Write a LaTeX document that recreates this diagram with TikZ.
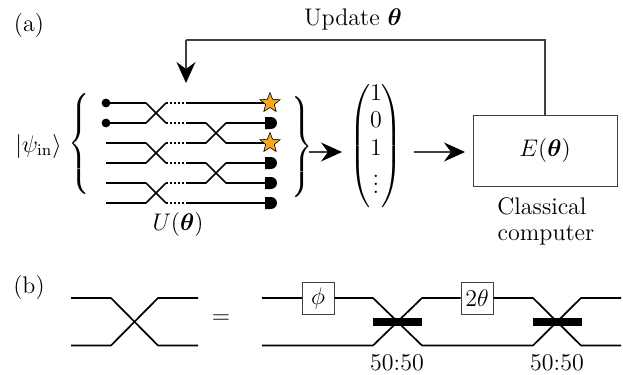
\documentclass[tikz,border=0pt,12pt]{standalone}
\usepackage{amsmath,amssymb,graphicx}
\usetikzlibrary{shapes.geometric,arrows.meta}
\definecolor{staror}{HTML}{F5A623}
\tikzset{
  wire/.style={line width=0.85pt,line join=round},
  gap/.style={line width=0.85pt,dash pattern=on 1pt off 1pt},
  feed/.style={line width=0.55pt,draw=black!75},
  bigarrow/.style={line width=0.55pt,draw=black!75,-{Stealth[length=10.5pt,width=9.5pt,inset=3.5pt,black]}},
  frame/.style={draw=black!75,line width=0.5pt,fill=white,inner sep=0pt},
  lbl/.style={inner sep=0pt,outer sep=0pt},
  pointdot/.style={circle,fill=black,inner sep=0pt,minimum size=4.4pt},
  anchorpt/.style={inner sep=0pt,minimum size=0pt},
  starm/.style={star,star points=5,star point ratio=2.3,fill=staror,draw=black,line width=0.3pt,inner sep=0pt,minimum size=10.5pt},
  bar/.style={fill=black,inner sep=0pt,minimum width=24.5pt,minimum height=4pt},
}
\newcommand{\meter}[1]{\fill (#1.center) ++(-0.5pt,3pt) -- ++(3pt,0pt) arc (90:-90:3pt) -- ++(-3pt,0pt) -- cycle;}
\newcommand{\tallbrace}[2]{\scalebox{1}[#1]{$\delimitershortfall=0pt\nulldelimiterspace=0pt #2$}}
\begin{document}
\begin{tikzpicture}[x=0.5pt,y=-0.5pt]
\useasboundingbox (0,0) rectangle (623,375);
\node[lbl] (labela) at (29,26) {(a)};
\node[lbl] (labelb) at (29,288) {(b)};
\node[lbl] (psi) at (38.5,146) {$|\psi_{\mathrm{in}}\rangle$};
\node[lbl] (lbrace) at (79,144) {\tallbrace{1.16}{\left\{\rule[-18pt]{0pt}{42pt}\right.}};
\node[lbl] (rbrace) at (302,147) {\tallbrace{1.16}{\left.\rule[-18pt]{0pt}{42pt}\right\}}};
\coordinate (bracetip) at (309,152);
\node[lbl] (uni) at (178,224) {$U(\boldsymbol{\theta})$};
\node[lbl] (update) at (353,19) {Update $\boldsymbol{\theta}$};
% inputs
\node[pointdot] (in1) at (106,103) {};
\node[pointdot] (in2) at (106,123) {};
\node[anchorpt] (in3) at (106,143) {};
\node[anchorpt] (in4) at (106,163) {};
\node[anchorpt] (in5) at (106,183) {};
\node[anchorpt] (in6) at (106,203) {};
% outputs
\node[anchorpt] (out1) at (266,103) {};
\node[anchorpt] (out2) at (266,123) {};
\node[anchorpt] (out3) at (266,143) {};
\node[anchorpt] (out4) at (266,163) {};
\node[anchorpt] (out5) at (266,183) {};
\node[anchorpt] (out6) at (266,203) {};
% wires
\draw[wire] (in1.center) -- ++(40,0) -- ++(20,20) coordinate (a1);
\draw[gap] (a1) -- ++(20,0) coordinate (b1);
\draw[wire] (b1) -- ++(20,0) -- ++(20,20) -- (out3.center);
\draw[wire] (in2.center) -- ++(40,0) -- ++(20,-20) coordinate (a2);
\draw[gap] (a2) -- ++(20,0) coordinate (b2);
\draw[wire] (b2) -- (out1.center);
\draw[wire] (in3.center) -- ++(40,0) -- ++(20,20) coordinate (a3);
\draw[gap] (a3) -- ++(20,0) coordinate (b3);
\draw[wire] (b3) -- ++(20,0) -- ++(20,20) -- (out5.center);
\draw[wire] (in4.center) -- ++(40,0) -- ++(20,-20) coordinate (a4);
\draw[gap] (a4) -- ++(20,0) coordinate (b4);
\draw[wire] (b4) -- ++(20,0) -- ++(20,-20) -- (out2.center);
\draw[wire] (in5.center) -- ++(40,0) -- ++(20,20) coordinate (a5);
\draw[gap] (a5) -- ++(20,0) coordinate (b5);
\draw[wire] (b5) -- (out6.center);
\draw[wire] (in6.center) -- ++(40,0) -- ++(20,-20) coordinate (a6);
\draw[gap] (a6) -- ++(20,0) coordinate (b6);
\draw[wire] (b6) -- ++(20,0) -- ++(20,-20) -- (out4.center);
% detectors
\meter{out2}\meter{out4}\meter{out5}\meter{out6}
\node[starm] (star1) at (270,103) {};
\node[starm] (star2) at (270,143) {};
% vector
\node[lbl] (vec) at (376,144) {\tallbrace{1.07}{\left(\rule[-24pt]{0pt}{54pt}\right.}\raisebox{2.9pt}{$\begin{matrix}1\\[-0.7pt]0\\[-0.7pt]1\\[-0.7pt] \vdots\end{matrix}$}\tallbrace{1.07}{\left.\rule[-24pt]{0pt}{54pt}\right)}};
\node[frame,minimum width=72pt,minimum height=35.5pt] (comp) at (545,150.5) {$E(\boldsymbol{\theta})$};
\node[lbl] (classical) at (542,206) {Classical};
\node[lbl] (computer) at (546,235) {computer};
\coordinate (vecin) at (342,152);
\coordinate (vecout) at (414,152);
\coordinate (compin) at (465,152);
\draw[bigarrow] (bracetip) -- (vecin);
\draw[bigarrow] (vecout) -- (compin);
\coordinate (fbtop) at (186,40);
\coordinate (fbend) at (186,83);
\draw[feed] (comp.north) -- (comp.north |- fbtop) -- (fbtop);
\draw[bigarrow] (fbtop) -- (fbend);
% (b)
\coordinate (l1) at (71,298);
\coordinate (l2) at (71,345.5);
\draw[wire] (l1) -- ++(40,0) -- ++(47,47.5) -- ++(40,0);
\draw[wire] (l2) -- ++(40,0) -- ++(47,-47.5) -- ++(40,0);
\node[lbl] (eq) at (221,319) {$=$};
\node[frame,minimum size=16pt] (phi) at (318,298) {$\phi$};
\node[frame,minimum size=16pt] (tt) at (477,298) {$2\theta$};
\coordinate (r1) at (262,298);
\coordinate (r2) at (262,345.5);
\coordinate (e1) at (621,298);
\coordinate (e2) at (621,345.5);
\draw[wire] (r1) -- (phi.west);
\draw[wire] (phi.east) -- (373,298) -- (422,345.5) -- (533,345.5) -- (581,298) -- (e1);
\draw[wire] (r2) -- (373,345.5) -- (422,298) -- (tt.west);
\draw[wire] (tt.east) -- (533,298) -- (581,345.5) -- (e2);
\node[bar] (bs1) at (397.5,322) {};
\node[bar] (bs2) at (557,322) {};
\node[lbl] (t1) at (397,363) {50:50};
\node[lbl] (t2) at (557,363) {50:50};
\end{tikzpicture}
\end{document}
